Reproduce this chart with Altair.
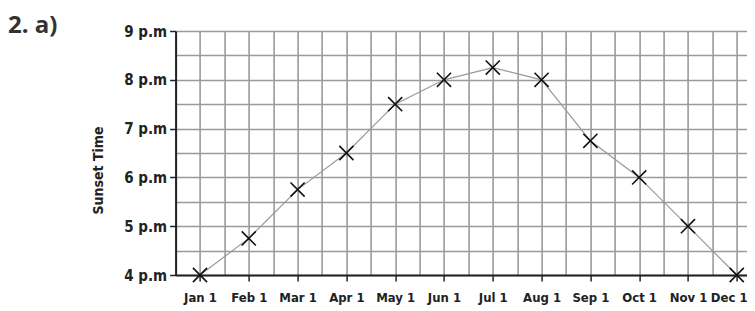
import altair as alt
import pandas as pd

months = ["Jan 1", "Feb 1", "Mar 1", "Apr 1", "May 1", "Jun 1",
          "Jul 1", "Aug 1", "Sep 1", "Oct 1", "Nov 1", "Dec 1"]
sunset_hour = [4.0, 4.75, 5.75, 6.5, 7.5, 8.0, 8.25, 8.0, 6.75, 6.0, 5.0, 4.0]
y_hours = [4, 5, 6, 7, 8, 9]

df = pd.DataFrame({"idx": list(range(len(months))), "month": months, "hour": sunset_hour})

FONT = "DejaVu Sans Condensed"

label_expr = "''"
for i in range(len(months) - 1, -1, -1):
    label_expr = f"(datum.value == {i} ? '{months[i]}' : {label_expr})"

x_grid_vals = [i / 2 for i in range(-1, 2 * len(months))]
y_grid_vals = [y_hours[0] + i / 2 for i in range(2 * (y_hours[-1] - y_hours[0]) + 1)]

x_enc = alt.X("idx:Q",
              scale=alt.Scale(domain=[-0.5, 11.21], nice=False, zero=False),
              axis=alt.Axis(values=x_grid_vals, title=None,
                            labelExpr=label_expr,
                            tickOpacity={"expr": "datum.value % 1 == 0 ? 1 : 0"},
                            labelOffset={"expr": f"datum.value == {len(months) - 1} ? -8 : 0"},
                            grid=True, gridColor="#9a9a9a", gridWidth=1.6,
                            domainColor="#222", domainWidth=2,
                            tickColor="#222", tickWidth=1.5, tickSize=6,
                            labelFont=FONT, labelFontWeight="bold", labelFontSize=13,
                            labelColor="#222", labelPadding=10, labelFlush=False,
                            labelOverlap=False, labelBound=False))
y_enc = alt.Y("hour:Q",
              scale=alt.Scale(domain=[4, 9], nice=False, zero=False),
              axis=alt.Axis(values=y_grid_vals, title="Sunset Time",
                            labelExpr="datum.value % 1 == 0 ? datum.value + ' p.m' : ''",
                            tickOpacity={"expr": "datum.value % 1 == 0 ? 1 : 0"},
                            grid=True, gridColor="#9a9a9a", gridWidth=1.6,
                            domainColor="#222", domainWidth=2,
                            tickColor="#222", tickWidth=1.5, tickSize=6,
                            labelFont=FONT, labelFontWeight="bold", labelFontSize=15,
                            labelColor="#222", labelPadding=3, labelFlush=False,
                            labelOverlap=False,
                            titleFont=FONT, titleFontWeight="bold", titleFontSize=14,
                            titleColor="#222", titleX=-77, titleY=139,
                            titleAngle=-90, titleAlign="center", titleBaseline="middle"))

line = alt.Chart(df).mark_line(color="#999999", strokeWidth=1.2).encode(x=x_enc, y=y_enc)
pts = alt.Chart(df).mark_point(
    shape="M-1,-1L1,1M-1,1L1,-1", size=200, filled=False,
    color="#111", strokeWidth=1.6, opacity=1
).encode(x=x_enc, y=y_enc)

chart = alt.layer(line, pts).properties(
    width=571.4, height=244,
    padding={"left": 167.6, "top": 23, "right": 0, "bottom": 30},
    autosize=alt.AutoSizeParams(type="none"),
    title=alt.TitleParams("2. a)", anchor="start", frame="group",
                          font="Open Sans", fontWeight="bold", fontSize=24,
                          color="#333", dx=-167.6, dy=14, offset=0),
).configure_view(stroke=None)

chart.save("out.html", embed_options={"renderer": "svg", "actions": False})
